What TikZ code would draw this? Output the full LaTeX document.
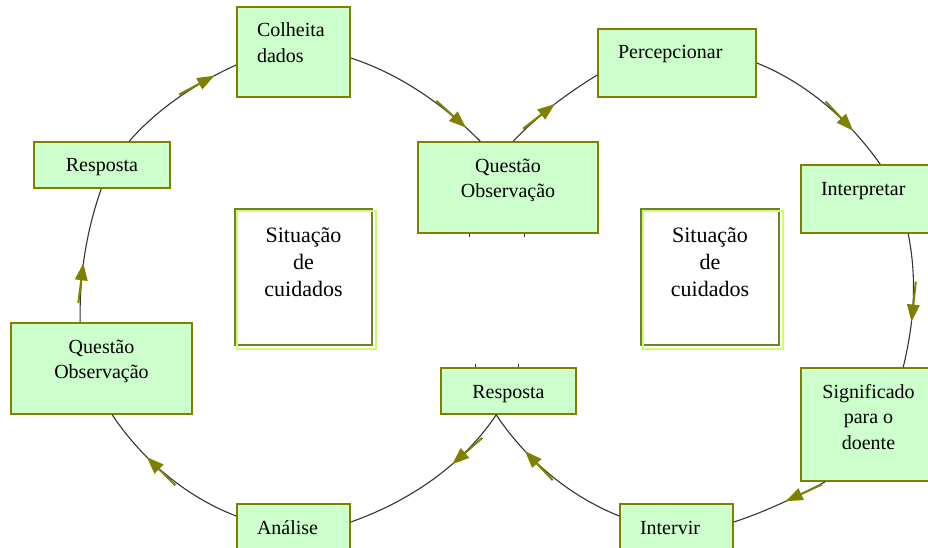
\documentclass[tikz,border=0pt]{standalone}
\usepackage{fontspec}
\setmainfont{Liberation Serif}
\usetikzlibrary{calc,decorations.markings}
\definecolor{boxfill}{HTML}{CCFFCC}
\definecolor{boxline}{HTML}{808000}
\definecolor{arrowc}{HTML}{7F7F00}
\definecolor{linec}{HTML}{333333}
\definecolor{sitdark}{HTML}{6F8030}
\definecolor{sitlight}{HTML}{CCFF66}
\newcommand\bxc[3]{\parbox[c][#2][t]{#1}{\centering\rule{0pt}{30pt}#3}}
\newcommand\bxl[3]{\parbox[c][#2][t]{#1}{\raggedright\leftskip=20pt\rule{0pt}{30pt}#3}}
\newcommand\bxs[3]{\parbox[c][#2][t]{#1}{\fontsize{22}{27}\selectfont\centering\rule{0pt}{33pt}#3}}
\tikzset{
  stepbox/.style={draw=boxline, fill=boxfill, line width=1.6pt, inner sep=0pt, rectangle},
  sitbox/.style={draw=sitdark, fill=white, line width=1.5pt, inner sep=0pt, rectangle},
  sitshadow/.style={draw=sitlight, line width=2pt},
  conn/.style={draw=linec, line width=1.1pt},
  tick/.style={draw=linec, line width=1.2pt},
  midarrow/.style={postaction={decorate, decoration={markings, mark=at position #1 with {
      \draw[arrowc, line width=2pt] (-38pt,0pt) -- (-10pt,0pt);
      \fill[arrowc] (2pt,0pt) -- (-15pt,6.5pt) -- (-15pt,-6.5pt) -- cycle;}}}},
}
\begin{document}
\begin{tikzpicture}[x=1pt, y=-1pt, font=\fontsize{20}{25.5}\selectfont]
\useasboundingbox (0,0) rectangle (928,548);
\fill[white] (0,0) rectangle (928,548);
\clip (0,0) rectangle (928,548);
% step boxes
\node[stepbox] (colheita) at (293.5,52) {\bxl{113pt}{90pt}{Colheita\\dados}};
\node[stepbox] (respL) at (102,165) {\bxc{136pt}{46pt}{Resposta}};
\node[stepbox] (questM) at (508,187.5) {\bxc{180pt}{91pt}{Questão\\Observação}};
\node[stepbox] (percep) at (677,63) {\bxl{158pt}{68pt}{Percepcionar}};
\node[stepbox] (interp) at (868.5,199) {\bxl{135pt}{68pt}{Interpretar}};
\node[stepbox] (signif) at (868.5,424.5) {\bxc{135pt}{113pt}{Significado\\para o\\doente}};
\node[stepbox] (questL) at (101.5,368.5) {\bxc{181pt}{91pt}{Questão\\Observação}};
\node[stepbox] (respM) at (508.5,391) {\bxc{135pt}{46pt}{Resposta}};
\node[stepbox] (analise) at (293.5,528) {\bxl{113pt}{48pt}{Análise}};
\node[stepbox] (intervir) at (676.5,528) {\bxl{113pt}{48pt}{Intervir}};
% situation boxes
\node[sitbox] (sitL) at (303.5,277) {\bxs{137pt}{136pt}{Situação\\de\\cuidados}};
\draw[sitshadow] ($(sitL.south west)+(3,3)$) rectangle ($(sitL.north east)+(3,3)$);
\node[sitbox] (sitR) at (710,277) {\bxs{138pt}{136pt}{Situação\\de\\cuidados}};
\draw[sitshadow] ($(sitR.south west)+(3,3)$) rectangle ($(sitR.north east)+(3,3)$);
% connectors
\draw[conn, midarrow=0.8] ($(respL.north west)+(96,0)$) .. controls +(29,-33) and +(-40,18) .. ($(colheita.west)+(0,13)$);
\draw[conn, midarrow=0.86] ($(colheita.east)+(0,6)$) .. controls +(49,16) and +(-37,-37) .. ($(questM.north west)+(63,0)$);
\draw[conn, midarrow=0.5] ($(questM.north west)+(96,0)$) .. controls +(25,-26) and +(-31,19) .. ($(percep.west)+(0,12)$);
\draw[conn, midarrow=0.72] (percep.east) .. controls +(50,20) and +(-31,-44) .. ($(interp.north west)+(80,0)$);
\draw[conn, midarrow=0.64] ($(interp.south west)+(108,0)$) .. controls +(9,45) and +(11,-45) .. ($(signif.north west)+(103,0)$);
\draw[conn, midarrow=0.42] ($(signif.south west)+(25,0)$) .. controls +(-29,15) and +(31,-10) .. ($(intervir.east)+(0,-6)$);
\draw[conn, midarrow=0.7] ($(intervir.west)+(0,-12)$) .. controls +(-50,-20) and +(30,45) .. ($(respM.south west)+(56,0)$);
\draw[conn, midarrow=0.35] ($(respM.south west)+(56,0)$) .. controls +(-34,51) and +(57,-20) .. ($(analise.east)+(0,-6)$);
\draw[conn, midarrow=0.65] ($(analise.west)+(0,-12)$) .. controls +(-50,-19) and +(30,45) .. ($(questL.south west)+(102,0)$);
\draw[conn, midarrow=0.42] ($(questL.north west)+(70,0)$) .. controls +(-1,-46) and +(-15,43) .. ($(respL.south west)+(68,0)$);
% small residual ticks
\draw[tick] ($(questM.south west)+(52,0)$) -- +(0,3);
\draw[tick] ($(questM.south west)+(107,0)$) -- +(0,3);
\draw[tick] ($(respM.north west)+(35,0)$) -- +(0,-3);
\draw[tick] ($(respM.north west)+(78,0)$) -- +(0,-3);
\end{tikzpicture}
\end{document}
